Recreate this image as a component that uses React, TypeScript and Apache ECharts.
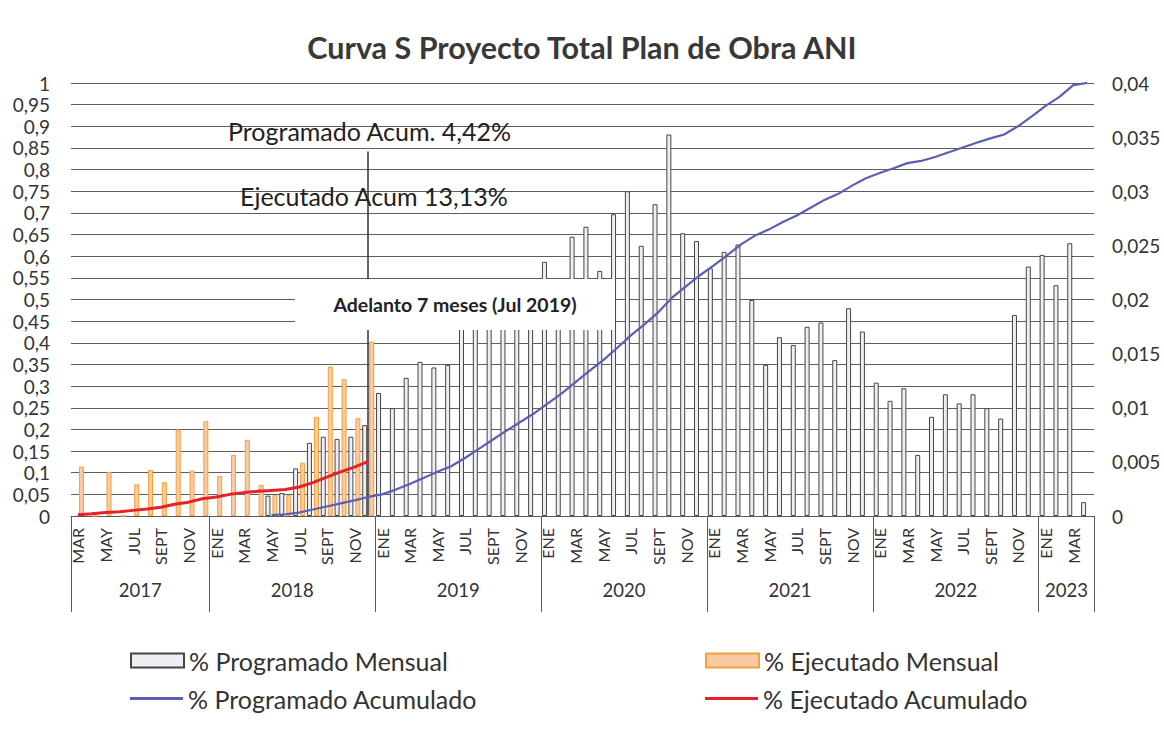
import React, { useEffect, useRef } from 'react';
import * as echarts from 'echarts';

const FONT = 'Lato, "Open Sans", "Noto Sans", sans-serif';

// Categories: months (Spanish abbreviations) per year
const monthNames = ['ENE', 'FEB', 'MAR', 'ABR', 'MAY', 'JUN', 'JUL', 'AGO', 'SEPT', 'OCT', 'NOV', 'DIC'];
const years = ['2017', '2018', '2019', '2020', '2021', '2022', '2023'];
const yearFirstMonth = [2, 0, 0, 0, 0, 0, 0];
const yearLastMonth = [11, 11, 11, 11, 11, 11, 3];

// % Programado Mensual (right axis), MAR 2017 .. ABR 2023
const programadoMensual: (number | null)[] = [
  // 2017 MAR-DIC
  null, null, null, null, null, null, null, null, null, null,
  // 2018
  null, null, null, null, 0.00188, 0.00212, 0.0044, 0.00676, 0.00732, 0.00712, 0.00732, 0.0084,
  // 2019
  0.01136, 0.00996, 0.01276, 0.01424, 0.01372, 0.01396, 0.0192, 0.02, 0.0204, 0.0208, 0.0212, 0.0212,
  // 2020
  0.02348, 0.0208, 0.0258, 0.02672, 0.02264, 0.02788, 0.03, 0.02496, 0.0288, 0.03524, 0.02612, 0.0254,
  // 2021
  0.02288, 0.0244, 0.02508, 0.01996, 0.01396, 0.01652, 0.0158, 0.01748, 0.01788, 0.0144, 0.0192, 0.01704,
  // 2022
  0.01232, 0.01064, 0.0118, 0.00564, 0.00916, 0.01124, 0.0104, 0.01124, 0.00996, 0.009, 0.01856, 0.02304,
  // 2023 ENE-ABR
  0.02412, 0.02132, 0.0252, 0.00128,
];

// % Ejecutado Mensual (right axis)
const ejecutadoMensual: (number | null)[] = [
  // 2017 MAR-DIC
  0.00456, 0, 0.00408, 0, 0.00292, 0.00424, 0.00312, 0.008, 0.0042, 0.00876,
  // 2018
  0.00368, 0.00564, 0.00704, 0.00288, 0.00192, 0.00192, 0.00492, 0.00916, 0.0138, 0.01264, 0.00904, 0.01612,
];

// % Programado Acumulado (left axis)
const programadoAcumulado: (number | null)[] = [
  null, null, null, null, null, null, null, null, null, null,
  null, null, null, null, 0.002, 0.004, 0.008, 0.015, 0.022, 0.029, 0.036, 0.044,
  0.05, 0.061, 0.074, 0.088, 0.102, 0.115, 0.134, 0.155, 0.176, 0.197, 0.217, 0.237,
  0.26, 0.283, 0.309, 0.335, 0.36, 0.388, 0.417, 0.443, 0.471, 0.505, 0.531, 0.556,
  0.579, 0.603, 0.628, 0.648, 0.662, 0.679, 0.694, 0.712, 0.73, 0.744, 0.763, 0.78,
  0.792, 0.803, 0.815, 0.82, 0.829, 0.84, 0.851, 0.862, 0.872, 0.881, 0.9, 0.923,
  0.947, 0.968, 0.995, 1.0,
];

// % Ejecutado Acumulado (left axis)
const ejecutadoAcumulado: (number | null)[] = [
  0.003, 0.005, 0.008, 0.01, 0.013, 0.016, 0.02, 0.027, 0.032, 0.04,
  0.044, 0.05, 0.054, 0.057, 0.059, 0.061, 0.067, 0.077, 0.09, 0.102, 0.113, 0.126,
];

const titleText = 'Curva S Proyecto Total Plan de Obra ANI';
const seriesNames = ['% Programado Mensual', '% Ejecutado Mensual', '% Programado Acumulado', '% Ejecutado Acumulado'];
const seriesColors = ['#f1eef3', '#fbc9a4', '#5a5fb3', '#e5222b'];
const noteProgramado = 'Programado Acum. 4,42%';
const noteEjecutado = 'Ejecutado Acum 13,13%';
const noteAdelanto = 'Adelanto 7 meses (Jul 2019)';
const corteIndex = 21; // DIC 2018

const categories: string[] = [];
const yearStart: number[] = [];
const yearLabelIdx: number[] = [];
years.forEach((y, k) => {
  yearStart.push(categories.length);
  const n = yearLastMonth[k] - yearFirstMonth[k] + 1;
  yearLabelIdx.push(categories.length + n / 2 - 1);
  for (let m = yearFirstMonth[k]; m <= yearLastMonth[k]; m++) categories.push(`${monthNames[m]} ${y}`);
});
yearStart.push(categories.length);

const fmt = (v: number) => String(parseFloat(Number(v).toFixed(4))).replace('.', ',');

export default function App() {
  const ref = useRef<HTMLDivElement>(null);
  useEffect(() => {
    if (!ref.current) return;
    const chart = echarts.init(ref.current, null, { renderer: 'svg' });
    const legendBase = {
      itemWidth: 53,
      itemGap: 4,
      padding: 0,
      icon: 'rect',
      textStyle: { fontSize: 25, color: '#333', fontFamily: FONT },
    };
    const option: any = {
      animation: false,
      backgroundColor: '#ffffff',
      textStyle: { fontFamily: FONT },
      title: {
        text: titleText,
        left: 'center',
        top: 26,
        textStyle: { fontSize: 30.5, fontWeight: 'bold', color: '#383838', fontFamily: FONT },
      },
      grid: { left: 71, right: 70, top: 83, bottom: 223 },
      xAxis: [
        {
          type: 'category',
          data: categories,
          boundaryGap: true,
          axisLine: { show: true, lineStyle: { color: '#5a5a5a' } },
          axisTick: { show: false },
          splitLine: { show: false },
          axisLabel: {
            interval: 1,
            rotate: 90,
            margin: 12,
            fontSize: 16,
            color: '#333',
            fontFamily: FONT,
            formatter: (v: string) => v.split(' ')[0],
          },
        },
        {
          type: 'category',
          data: categories,
          boundaryGap: true,
          position: 'bottom',
          axisLine: { show: false },
          axisTick: {
            show: true,
            inside: false,
            length: 96,
            interval: (i: number) => yearStart.includes(i),
            lineStyle: { color: '#5a5a5a' },
          },
          splitLine: { show: false },
          axisLabel: {
            margin: 64,
            interval: (i: number) => yearLabelIdx.includes(i),
            formatter: (v: string) => `{y|${v.split(' ')[1]}}`,
            rich: { y: { fontSize: 18.5, color: '#333', fontFamily: FONT, padding: [0, 0, 0, 14] } },
          },
        },
      ],
      yAxis: [
        {
          type: 'value',
          min: 0,
          max: 1,
          interval: 0.05,
          position: 'left',
          axisLine: { show: false },
          axisTick: { show: false },
          splitLine: { show: true, lineStyle: { color: '#5e5e5e', width: 1 } },
          axisLabel: { formatter: fmt, fontSize: 19, color: '#333', margin: 21, fontFamily: FONT },
        },
        {
          type: 'value',
          min: 0,
          max: 0.04,
          interval: 0.005,
          position: 'right',
          axisLine: { show: false },
          axisTick: { show: false },
          splitLine: { show: false },
          axisLabel: { formatter: fmt, fontSize: 19, color: '#333', margin: 18, fontFamily: FONT },
        },
      ],
      legend: [
        { ...legendBase, data: [seriesNames[0]], left: 130, top: 648, itemHeight: 14 },
        { ...legendBase, data: [seriesNames[1]], left: 705, top: 648, itemHeight: 14 },
        { ...legendBase, data: [seriesNames[2]], left: 130, top: 686, itemHeight: 3 },
        { ...legendBase, data: [seriesNames[3]], left: 705, top: 686, itemHeight: 3 },
      ],
      series: [
        {
          name: seriesNames[0],
          type: 'bar',
          xAxisIndex: 0,
          yAxisIndex: 1,
          data: programadoMensual,
          barWidth: 5,
          barGap: '40%',
          itemStyle: { color: seriesColors[0], borderColor: '#454545', borderWidth: 1 },
        },
        {
          name: seriesNames[1],
          type: 'bar',
          xAxisIndex: 0,
          yAxisIndex: 1,
          data: ejecutadoMensual,
          barWidth: 5,
          barGap: '40%',
          itemStyle: { color: seriesColors[1], borderColor: '#efa238', borderWidth: 1 },
        },
        {
          name: seriesNames[2],
          type: 'line',
          xAxisIndex: 0,
          yAxisIndex: 0,
          data: programadoAcumulado,
          symbol: 'none',
          lineStyle: { color: seriesColors[2], width: 2.2 },
          itemStyle: { color: seriesColors[2] },
          z: 5,
        },
        {
          name: seriesNames[3],
          type: 'line',
          xAxisIndex: 0,
          yAxisIndex: 0,
          data: ejecutadoAcumulado,
          symbol: 'none',
          lineStyle: { color: seriesColors[3], width: 3 },
          itemStyle: { color: seriesColors[3] },
          z: 6,
          markLine: {
            silent: true,
            symbol: 'none',
            label: { show: false },
            lineStyle: { color: '#333', width: 1.5, type: 'solid' },
            data: [[{ coord: [categories[corteIndex], 0.842] }, { coord: [categories[corteIndex], 0] }]],
          },
        },
      ],
      graphic: [
        { type: 'rect', z: 100, shape: { x: 295, y: 279, width: 320, height: 51 }, style: { fill: '#ffffff' } },
        {
          type: 'text', z: 101, x: 455, y: 304,
          style: { text: noteAdelanto, fontSize: 19.5, fontWeight: 'bold', fill: '#222', align: 'center', verticalAlign: 'middle', fontFamily: FONT },
        },
        {
          type: 'text', z: 101, x: 228, y: 131,
          style: { text: noteProgramado, fontSize: 25, fill: '#222', align: 'left', verticalAlign: 'middle', fontFamily: FONT },
        },
        {
          type: 'text', z: 101, x: 240, y: 196,
          style: { text: noteEjecutado, fontSize: 25, fill: '#222', align: 'left', verticalAlign: 'middle', fontFamily: FONT },
        },
      ],
    };
    chart.setOption(option);
    return () => chart.dispose();
  }, []);
  return <div ref={ref} style={{ position: 'absolute', left: 0, top: 0, width: 1164, height: 739 }} />;
}
